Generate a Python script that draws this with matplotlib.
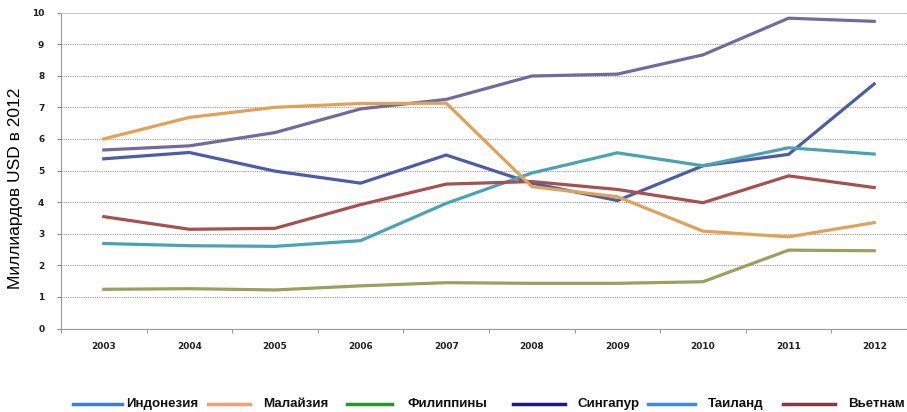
import matplotlib
matplotlib.use("Agg")
import matplotlib.pyplot as plt
from matplotlib.lines import Line2D

years = ["2003", "2004", "2005", "2006", "2007", "2008", "2009", "2010", "2011", "2012"]

indonesia = [5.37, 5.57, 4.98, 4.6, 5.49, 4.6, 4.05, 5.15, 5.51, 7.74]
malaysia = [6.0, 6.68, 7.0, 7.12, 7.13, 4.49, 4.17, 3.08, 2.9, 3.35]
philippines = [1.24, 1.26, 1.22, 1.35, 1.45, 1.43, 1.43, 1.48, 2.48, 2.46]
singapore = [5.65, 5.78, 6.2, 6.95, 7.25, 7.99, 8.05, 8.66, 9.82, 9.72]
thailand = [2.69, 2.62, 2.6, 2.78, 3.96, 4.92, 5.56, 5.15, 5.72, 5.52]
vietnam = [3.54, 3.14, 3.17, 3.92, 4.57, 4.65, 4.4, 3.98, 4.83, 4.46]

legend_names = ["Индонезия", "Малайзия", "Филиппины", "Сингапур", "Таиланд", "Вьетнам"]
legend_colors = ["#3b7fdc", "#f2a06e", "#2a962a", "#1b1b86", "#3d8ee0", "#8c3644"]
# pixel positions of legend handle start/end and label start
legend_pos = [(73, 122, 126), (208, 250, 263), (347, 392, 408),
              (513, 565, 577), (648, 695, 708), (783, 835, 848)]

W, H = 907, 412
fig = plt.figure(figsize=(W / 100, H / 100), dpi=100)
ax = fig.add_axes([61 / W, (H - 328.5) / H, (917 - 61) / W, (328.5 - 12.5) / H])

x = list(range(len(years)))
lw = 2.3
ax.plot(x, indonesia, color="#4d5ca6", lw=lw)
ax.plot(x, philippines, color="#9ba05f", lw=lw)
ax.plot(x, singapore, color="#726a9c", lw=lw)
ax.plot(x, thailand, color="#4aa3b2", lw=lw)
ax.plot(x, vietnam, color="#a5514f", lw=lw)
ax.plot(x, malaysia, color="#e2a157", lw=lw)

ax.set_xlim(-0.5, 9.5)
ax.set_ylim(0, 10)
ax.set_yticks(range(0, 11))
ax.set_xticks(x)
ax.set_xticklabels(years)
ax.set_xticks([i + 0.5 for i in range(-1, 10)], minor=True)
ax.tick_params(axis="x", which="major", length=0, pad=10)
ax.tick_params(axis="x", which="minor", length=3, color="#888888", direction="out")
ax.tick_params(axis="y", length=3, color="#888888", pad=9)
for lab in ax.get_xticklabels() + ax.get_yticklabels():
    lab.set_fontsize(6.5)
    lab.set_fontweight("bold")
    lab.set_color("#222222")

ax.grid(axis="y", linestyle=(0, (1, 1)), color="#999999", lw=0.8)
ax.set_axisbelow(True)
ax.spines["top"].set_color("#cccccc")
ax.spines["right"].set_visible(False)
ax.spines["left"].set_color("#999999")
ax.spines["bottom"].set_color("#999999")

ax.set_ylabel("Миллиардов USD в 2012", fontsize=12.5, family="Liberation Sans")
ax.yaxis.set_label_coords(-0.0444, 0.445)

# legend drawn by hand, spacing in the original is uneven
ly = (H - 404) / H
for name, col, (x0, x1, tx) in zip(legend_names, legend_colors, legend_pos):
    fig.add_artist(Line2D([x0 / W, x1 / W], [ly, ly], color=col, lw=2.5,
                          transform=fig.transFigure))
    fig.text(tx / W, ly, name, va="center", ha="left", family="Liberation Sans",
             weight="bold", fontsize=9.6, color="#111111")

fig.savefig("out.png", dpi=100)
